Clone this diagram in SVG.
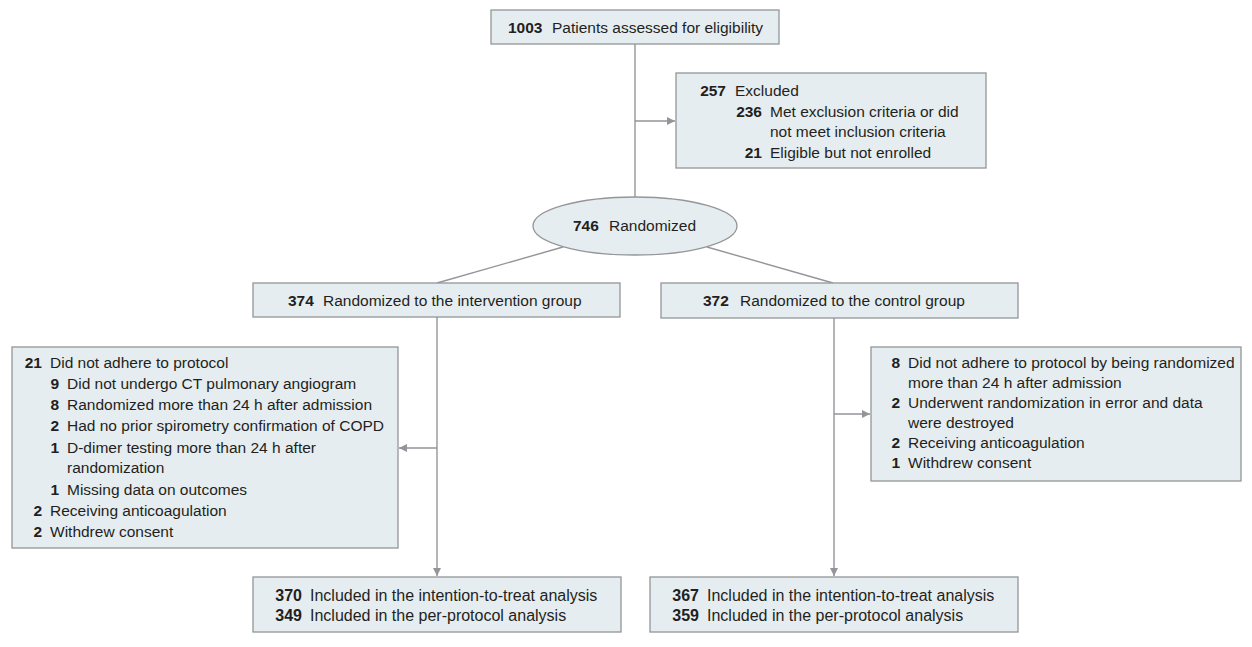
<svg xmlns="http://www.w3.org/2000/svg" width="1252" height="647" viewBox="0 0 1252 647">
<style>
.box{fill:#e6edf1;stroke:#939598;stroke-width:1.3}
.ln{fill:none;stroke:#939598;stroke-width:1.4}
text{font-family:"Liberation Sans",Arial,sans-serif;font-size:15.5px;fill:#231f20}
.n{font-weight:bold;text-anchor:end}
.b text{font-size:16px}
</style>
<defs>
<marker id="ah" markerUnits="userSpaceOnUse" markerWidth="10" markerHeight="10" refX="8" refY="4" orient="auto">
<path d="M0,0 L8,4 L0,8 Z" fill="#939598"/>
</marker>
</defs>
<g id="connectors">
<line class="ln" x1="635" y1="44" x2="635" y2="197"/>
<line class="ln" x1="635" y1="121" x2="675" y2="121" marker-end="url(#ah)"/>
<line class="ln" x1="563" y1="247" x2="437" y2="283"/>
<line class="ln" x1="707" y1="247" x2="833" y2="283"/>
<line class="ln" x1="437" y1="317" x2="437" y2="576" marker-end="url(#ah)"/>
<line class="ln" x1="437" y1="448" x2="399" y2="448" marker-end="url(#ah)"/>
<line class="ln" x1="834" y1="318" x2="834" y2="576" marker-end="url(#ah)"/>
<line class="ln" x1="834" y1="414" x2="870" y2="414" marker-end="url(#ah)"/>
</g>
<g id="assessed">
<rect class="box" x="491" y="10" width="288" height="34"/>
<text x="508" y="33"><tspan font-weight="bold">1003</tspan><tspan x="552">Patients assessed for eligibility</tspan></text>
</g>
<g id="excluded">
<rect class="box" x="676" y="73" width="310" height="95"/>
<text class="n" x="726" y="96">257</text><text x="735" y="96">Excluded</text>
<text class="n" x="762" y="117">236</text><text x="770" y="117">Met exclusion criteria or did</text>
<text x="770" y="137">not meet inclusion criteria</text>
<text class="n" x="762" y="158">21</text><text x="770" y="158">Eligible but not enrolled</text>
</g>
<g id="randomized">
<ellipse class="box" cx="635" cy="226" rx="102" ry="29"/>
<text x="573" y="231"><tspan font-weight="bold">746</tspan><tspan x="609">Randomized</tspan></text>
</g>
<g id="intervention">
<rect class="box" x="253" y="283" width="367" height="34"/>
<text x="288" y="306"><tspan font-weight="bold">374</tspan><tspan x="323">Randomized to the intervention group</tspan></text>
</g>
<g id="control">
<rect class="box" x="661" y="283" width="357" height="35"/>
<text x="703" y="306"><tspan font-weight="bold">372</tspan><tspan x="740">Randomized to the control group</tspan></text>
</g>
<g id="intervention-excluded">
<rect class="box" x="12" y="347" width="386" height="201"/>
<text class="n" x="42" y="368">21</text><text x="50" y="368">Did not adhere to protocol</text>
<text class="n" x="59" y="389">9</text><text x="67" y="389">Did not undergo CT pulmonary angiogram</text>
<text class="n" x="59" y="410">8</text><text x="67" y="410">Randomized more than 24 h after admission</text>
<text class="n" x="59" y="431">2</text><text x="67" y="431">Had no prior spirometry confirmation of COPD</text>
<text class="n" x="59" y="453">1</text><text x="67" y="453">D-dimer testing more than 24 h after</text>
<text x="67" y="473">randomization</text>
<text class="n" x="59" y="495">1</text><text x="67" y="495">Missing data on outcomes</text>
<text class="n" x="42" y="516">2</text><text x="50" y="516">Receiving anticoagulation</text>
<text class="n" x="42" y="537">2</text><text x="50" y="537">Withdrew consent</text>
</g>
<g id="control-excluded">
<rect class="box" x="871" y="347" width="370" height="134"/>
<text class="n" x="900" y="368">8</text><text x="908" y="368">Did not adhere to protocol by being randomized</text>
<text x="908" y="388">more than 24 h after admission</text>
<text class="n" x="900" y="408">2</text><text x="908" y="408">Underwent randomization in error and data</text>
<text x="908" y="428">were destroyed</text>
<text class="n" x="900" y="448">2</text><text x="908" y="448">Receiving anticoagulation</text>
<text class="n" x="900" y="468">1</text><text x="908" y="468">Withdrew consent</text>
</g>
<g id="intervention-analysis" class="b">
<rect class="box" x="253" y="577" width="368" height="55"/>
<text class="n" x="302" y="601">370</text><text x="310" y="601">Included in the intention-to-treat analysis</text>
<text class="n" x="302" y="621">349</text><text x="310" y="621">Included in the per-protocol analysis</text>
</g>
<g id="control-analysis" class="b">
<rect class="box" x="650" y="577" width="368" height="55"/>
<text class="n" x="699" y="601">367</text><text x="707" y="601">Included in the intention-to-treat analysis</text>
<text class="n" x="699" y="621">359</text><text x="707" y="621">Included in the per-protocol analysis</text>
</g>
</svg>
